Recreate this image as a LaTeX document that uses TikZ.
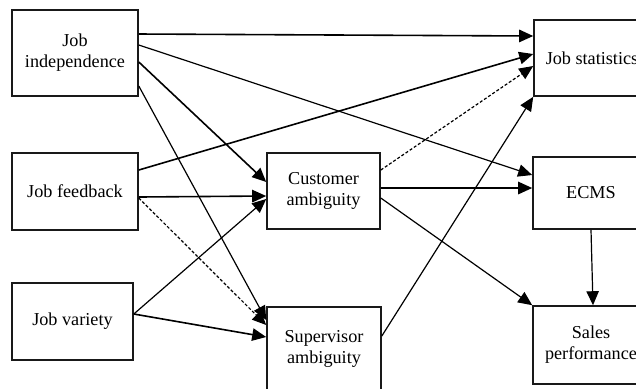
\documentclass[tikz,border=0pt]{standalone}
\usepackage{fontspec}
\setmainfont{Liberation Serif}
\usetikzlibrary{arrows.meta}
\begin{document}
\begin{tikzpicture}[x=0.5pt,y=-0.5pt,
  box/.style={draw=black!90, line width=0.8pt, rectangle, inner sep=0pt, align=center,
    font=\fontsize{9.1pt}{10.5pt}\selectfont},
  con/.style={line width=0.8pt, -{Triangle[length=7pt,width=6.2pt]}},
  thin con/.style={line width=0.6pt, -{Triangle[length=7pt,width=6.2pt]}},
  dot con/.style={line width=0.6pt, dash pattern=on 1.5pt off 1pt, -{Triangle[length=7pt,width=6.2pt]}}]
\useasboundingbox (0,0) rectangle (636,388);
\clip (0,0) rectangle (636,388);
\node[box, minimum width=63pt, minimum height=43pt] (ji) at (75,53) {Job\\independence};
\node[box, minimum width=63pt, minimum height=38.5pt] (jf) at (75,191.5) {Job feedback};
\node[box, minimum width=60.5pt, minimum height=38.5pt] (jv) at (72.5,321.5) {Job variety};
\node[box, minimum width=56.5pt, minimum height=38pt] (ca) at (323.5,191) {Customer\\ambiguity};
\node[box, minimum width=57pt, minimum height=41.5pt] (sa) at (324,348.5) {Supervisor\\ambiguity};
\node[box, minimum width=58pt, minimum height=38pt] (js) at (592,58) {Job statistics};
\node[box, minimum width=58pt, minimum height=36pt] (ec) at (591,193) {ECMS};
\node[box, minimum width=58pt, minimum height=39pt] (sp) at (591,345) {Sales\\performance};
% from Job independence
\draw[con] ([yshift=9.5pt]ji.east) -- ([yshift=11pt]js.west);
\draw[thin con] ([yshift=4pt]ji.east) -- ([yshift=9pt]ec.west);
\draw[con] ([yshift=-4.5pt]ji.east) -- ([yshift=4.5pt]ca.west);
\draw[thin con] ([yshift=-16.5pt]ji.east) -- ([yshift=14.25pt]sa.west);
% from Job feedback
\draw[con] ([yshift=10.75pt]jf.east) -- ([yshift=2pt]js.west);
\draw[con] ([yshift=-2.75pt]jf.east) -- ([yshift=-2.5pt]ca.west);
\draw[dot con] ([yshift=-3.25pt]jf.east) -- ([yshift=11.75pt]sa.west);
% from Job variety
\draw[thin con] ([yshift=3.75pt]jv.east) -- ([yshift=-4pt]ca.west);
\draw[con] ([yshift=3.75pt]jv.east) -- ([yshift=5.75pt]sa.west);
% from Customer ambiguity
\draw[dot con] ([yshift=10.5pt]ca.east) -- ([yshift=-4pt]js.west);
\draw[con] ([yshift=1.5pt]ca.east) -- ([yshift=2.5pt]ec.west);
\draw[thin con] ([yshift=-3.5pt]ca.east) -- (sp.north west);
% from Supervisor ambiguity
\draw[thin con] ([yshift=6.25pt]sa.east) -- (js.south west);
% ECMS to Sales
\draw[thin con] (ec.south) -- ([xshift=1pt]sp.north);
\end{tikzpicture}
\end{document}
